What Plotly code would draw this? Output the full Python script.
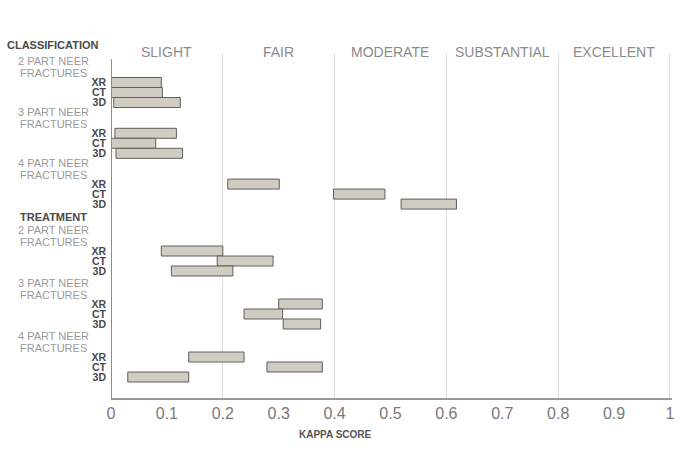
import plotly.graph_objects as go

# ---- data ----
sections = ["CLASSIFICATION", "TREATMENT"]
groups = ["2 PART NEER|FRACTURES", "3 PART NEER|FRACTURES", "4 PART NEER|FRACTURES"]
modalities = ["XR", "CT", "3D"]
bands = ["SLIGHT", "FAIR", "MODERATE", "SUBSTANTIAL", "EXCELLENT"]
band_centers = [0.1, 0.3, 0.5, 0.7, 0.9]

# kappa ranges (low, high) per section -> group -> modality
class_low = [[0.0, 0.0, 0.005], [0.007, 0.0, 0.009], [0.209, 0.398, 0.519]]
class_high = [[0.090, 0.092, 0.124], [0.117, 0.080, 0.128], [0.301, 0.490, 0.618]]
treat_low = [[0.090, 0.190, 0.108], [0.300, 0.238, 0.308], [0.139, 0.279, 0.030]]
treat_high = [[0.200, 0.290, 0.218], [0.378, 0.307, 0.375], [0.238, 0.378, 0.139]]
lows = [class_low, treat_low]
highs = [class_high, treat_high]

# ---- layout constants ----
W, H = 685, 458
M_L, M_R, M_T, M_B = 111, 10, 53, 60
PLOT_BOTTOM = H - M_B
PLOT_H = H - M_T - M_B
Y_TOP = M_T

SECTION_FIRST_ROW = [82.5, 251.0]
GROUP_PITCH = [50.8, 53.0]
ROW_STEP = 10.0
SECTION_HDR_OFF = [-37.5, -34.5]
LABEL1_OFF = -21.5
LABEL2_OFF = -9.0
LABEL_X = -0.103  # paper


def py(v):
    """vertical axis units -> paper fraction"""
    return (PLOT_BOTTOM - v) / PLOT_H


FONT = "Liberation Sans, Arial, Helvetica, sans-serif"
BAR_FILL = "#d0ccc2"
BAR_LINE = "#5e5e5e"

ys, bases, lengths, tickvals, ticktext = [], [], [], [], []
annotations = []
for s, sec in enumerate(sections):
    first = SECTION_FIRST_ROW[s]
    annotations.append(dict(text="<b>" + sec + "</b>", x=LABEL_X, xref="paper",
                            y=py(first + SECTION_HDR_OFF[s]), yref="paper", showarrow=False,
                            xanchor="center", yanchor="middle",
                            font=dict(family=FONT, size=11, color="#4a4a4a")))
    for g, grp in enumerate(groups):
        xr_y = first + g * GROUP_PITCH[s]
        l1, l2 = grp.split("|")
        for txt, off in ((l1, LABEL1_OFF), (l2, LABEL2_OFF)):
            annotations.append(dict(text=txt, x=LABEL_X, xref="paper", y=py(xr_y + off), yref="paper",
                                    showarrow=False, xanchor="center", yanchor="middle",
                                    font=dict(family=FONT, size=11, color="#9a9a9a")))
        for m, mod in enumerate(modalities):
            y = xr_y + m * ROW_STEP
            lo = lows[s][g][m]
            hi = highs[s][g][m]
            ys.append(y)
            bases.append(lo)
            lengths.append(hi - lo)
            tickvals.append(y)
            ticktext.append("<b>" + mod + "</b>")

for b, c in zip(bands, band_centers):
    annotations.append(dict(text=b, x=c, xref="x", y=py(51.7), yref="paper", showarrow=False,
                            xanchor="center", yanchor="middle",
                            font=dict(family=FONT, size=14, color="#8a8a8a")))

annotations.append(dict(text="<b>KAPPA SCORE</b>", x=0.402, xref="x", y=py(434), yref="paper",
                        showarrow=False, xanchor="center", yanchor="middle",
                        font=dict(family=FONT, size=10, color="#555555")))

fig = go.Figure(go.Bar(
    x=lengths, y=ys, base=bases, orientation="h", width=10,
    marker=dict(color=BAR_FILL, line=dict(color=BAR_LINE, width=1)),
    hoverinfo="skip",
))

fig.update_layout(
    width=W, height=H,
    margin=dict(l=M_L, r=M_R, t=M_T, b=M_B),
    paper_bgcolor="white", plot_bgcolor="white",
    showlegend=False,
    annotations=annotations,
    font=dict(family=FONT),
    shapes=[dict(type="line", xref="x", yref="paper", x0=0, x1=0, y0=py(59), y1=0,
                 line=dict(color="#8c8c8c", width=2))],
)

fig.update_xaxes(
    range=[0, 1.0036],
    tickvals=[i / 10 for i in range(11)],
    ticktext=["0", "0.1", "0.2", "0.3", "0.4", "0.5", "0.6", "0.7", "0.8", "0.9", "1"],
    tickfont=dict(family=FONT, size=16, color="#7a7a7a"),
    showgrid=False, zeroline=False,
    showline=True, linecolor="#999999", linewidth=2,
    ticks="",
    minor=dict(tickvals=[0.2, 0.4, 0.6, 0.8, 1.0], showgrid=True, gridcolor="#dddddd", gridwidth=1, ticks=""),
)
fig.update_yaxes(
    range=[PLOT_BOTTOM, Y_TOP], autorange=False,
    tickvals=tickvals, ticktext=ticktext,
    tickfont=dict(family=FONT, size=10.5, color="#4a4a4a"),
    showgrid=False, zeroline=False, showline=False,
    ticks="", ticklabelstandoff=4,
)

fig.write_html("out.html", config={"displayModeBar": False},
               post_script="document.body.style.margin='0px';")
